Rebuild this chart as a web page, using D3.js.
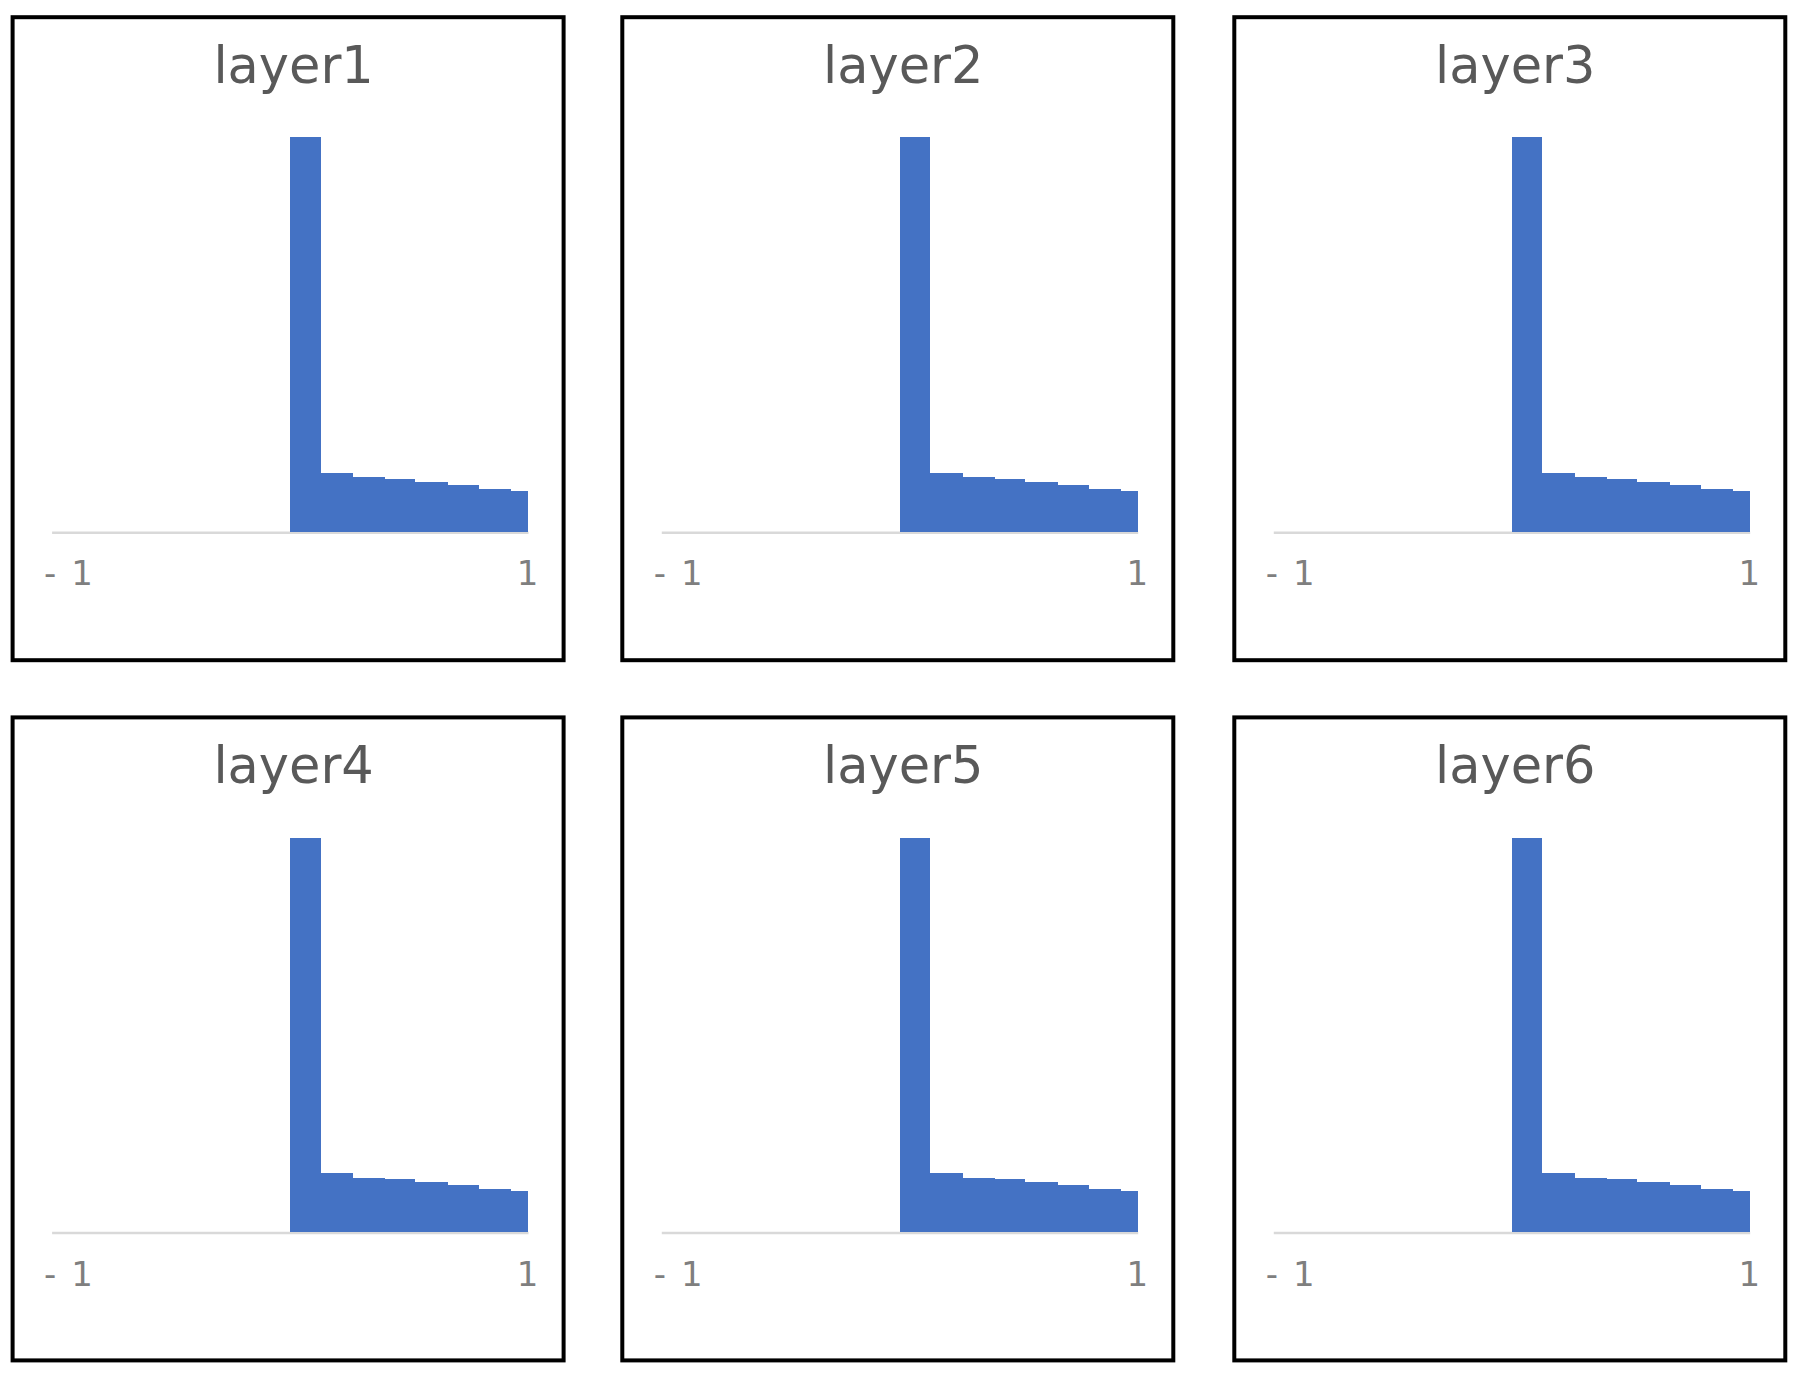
<!DOCTYPE html>
<html>
<head>
<meta charset="utf-8">
<script src="https://cdn.jsdelivr.net/npm/d3@7"></script>
<style>
  body { margin: 0; background: #fff; }
</style>
</head>
<body>
<svg width="1797" height="1377"></svg>
<script>
// panel titles
const layers = ["layer1", "layer2", "layer3", "layer4", "layer5", "layer6"];

// histogram bins (left/right edges on the -1..1 axis), same for every layer
const binEdges = [0, 0.13, 0.265, 0.4, 0.525, 0.665, 0.795, 0.93, 1];

// relative frequency per bin (all six panels look the same)
const counts = [100, 15.0, 13.9, 13.5, 12.7, 12.0, 10.9, 10.4];

const tickValues = [-1, 1];
const tickLabels = ["- 1", "1"];

let svg = d3.select("svg");

// grid of panels
let colX = [12.6, 622.3, 1234.3],
    rowY = [17.2, 717.4],
    panelW = 551,
    panelH = 643;

let x = d3.scaleLinear().domain([-1, 1]).range([39, 515.4]);
let y = d3.scaleLinear().domain([0, 100]).range([515, 120.1]);

let bins = counts.map(function(v, i) {
    return { x0: binEdges[i], x1: binEdges[i + 1], value: v };
});

let panel = svg.selectAll("g.panel")
    .data(layers)
    .enter().append("g")
    .attr("class", "panel")
    .attr("transform", function(d, i) {
        return "translate(" + colX[i % 3] + "," + rowY[Math.floor(i / 3)] + ")";
    });

panel.append("rect")
    .attr("width", panelW)
    .attr("height", panelH)
    .attr("fill", "#fff")
    .attr("stroke", "#000")
    .attr("stroke-width", 4);

panel.append("text")
    .text(function(d) { return d; })
    .attr("x", 281)
    .attr("y", 66)
    .attr("text-anchor", "middle")
    .attr("font-family", "DejaVu Sans")
    .attr("font-size", 51)
    .attr("fill", "#595959");

// x axis: light baseline plus the two end labels
panel.each(function() {
    let g = d3.select(this);
    let ax = g.append("g")
        .attr("transform", "translate(0," + y(0) + ")")
        .call(d3.axisBottom(x)
            .tickValues(tickValues)
            .tickFormat(function(d, i) { return tickLabels[i]; })
            .tickSize(0)
            .tickPadding(29));

    ax.select(".domain")
        .attr("stroke", "#d9d9d9")
        .attr("stroke-width", 2.5);

    ax.selectAll("text")
        .attr("font-family", "DejaVu Sans")
        .attr("font-size", 34)
        .attr("fill", "#7f7f7f")
        .attr("text-anchor", function(d, i) { return i === 0 ? "start" : "middle"; })
        .attr("dx", function(d, i) { return i === 0 ? -8 : -1; })
        .style("word-spacing", function(d, i) { return i === 0 ? "4px" : null; });

    g.append("g")
        .selectAll("rect")
        .data(bins)
        .enter().append("rect")
        .attr("x", function(d) { return x(d.x0); })
        .attr("width", function(d) { return x(d.x1) - x(d.x0); })
        .attr("y", function(d) { return y(d.value); })
        .attr("height", function(d) { return y(0) - y(d.value); })
        .attr("fill", "#4472c4")
        .attr("shape-rendering", "crispEdges");
});
</script>
</body>
</html>
